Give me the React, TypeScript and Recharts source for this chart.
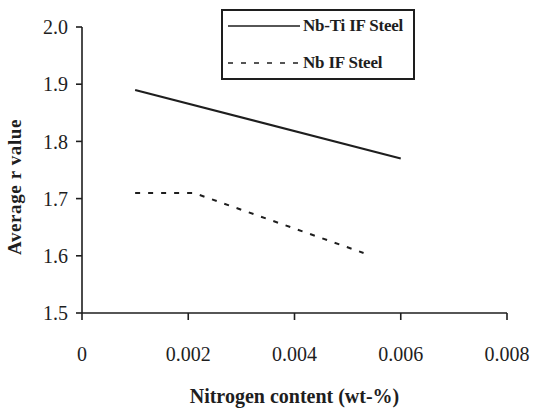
import { LineChart, Line, XAxis, YAxis, Legend, Label } from "recharts";

// nitrogen (wt-%) vs. average r value for the two steel grades
const NB_TI_N = [0.001, 0.006];
const NB_TI_R = [1.89, 1.77];
const NB_N = [0.001, 0.0021, 0.0053];
const NB_R = [1.71, 1.71, 1.605];

const X_TICKS = [0, 0.002, 0.004, 0.006, 0.008];
const Y_TICKS = [1.5, 1.6, 1.7, 1.8, 1.9, 2.0];

const nbTi = NB_TI_N.map((n, i) => ({ n, r: NB_TI_R[i] }));
const nb = NB_N.map((n, i) => ({ n, r: NB_R[i] }));

const INK = "#1e1e1e";
const FONT = '"Liberation Serif", "Times New Roman", serif';

const SERIES = [
  { name: "Nb-Ti IF Steel", data: nbTi, dash: undefined },
  { name: "Nb IF Steel", data: nb, dash: "5 8" },
];

function LegendBox() {
  return (
    <div
      style={{
        boxSizing: "border-box",
        width: 194,
        height: 71,
        border: `2px solid ${INK}`,
        fontFamily: FONT,
        fontWeight: 700,
        fontSize: 17,
        color: INK,
        position: "relative",
      }}
    >
      {SERIES.map((s, i) => (
        <div
          key={s.name}
          style={{
            position: "absolute",
            left: 5,
            top: i === 0 ? 3 : 40,
            height: 24,
            display: "flex",
            alignItems: "center",
            whiteSpace: "nowrap",
          }}
        >
          <svg width={72} height={4} style={{ marginRight: 3 }}>
            <line
              x1={0}
              y1={2}
              x2={72}
              y2={2}
              stroke={INK}
              strokeWidth={1.6}
              strokeDasharray={s.dash}
            />
          </svg>
          <span style={{ letterSpacing: -0.2 }}>{s.name}</span>
        </div>
      ))}
    </div>
  );
}

export default function App() {
  return (
    <div
      style={{
        position: "absolute",
        left: 0,
        top: 0,
        background: "#fff",
        fontFamily: FONT,
      }}
    >
      <LineChart
        width={534}
        height={416}
        margin={{ top: 27, right: 27, bottom: 0, left: 0 }}
        style={{ fontFamily: FONT }}
      >
        <XAxis
          type="number"
          dataKey="n"
          domain={[0, 0.008]}
          ticks={X_TICKS}
          tickFormatter={(v) => (v === 0 ? "0" : v.toFixed(3))}
          height={103}
          tickSize={7}
          tickMargin={27}
          axisLine={{ stroke: INK, strokeWidth: 1.6 }}
          tickLine={{ stroke: INK, strokeWidth: 1.6 }}
          tick={{ fill: INK, fontSize: 20, fontFamily: FONT }}
          allowDuplicatedCategory={false}
        >
          <Label
            content={({ viewBox }: any) => (
              <text
                x={viewBox.x + viewBox.width / 2}
                y={viewBox.y + 85}
                textAnchor="middle"
                dominantBaseline="middle"
                fill={INK}
                fontFamily={FONT}
                fontWeight={700}
                fontSize={20}
              >
                Nitrogen content (wt-%)
              </text>
            )}
          />
        </XAxis>
        <YAxis
          type="number"
          domain={[1.5, 2.0]}
          ticks={Y_TICKS}
          tickFormatter={(v) => v.toFixed(1)}
          width={82}
          tickSize={6}
          tickMargin={8}
          axisLine={{ stroke: INK, strokeWidth: 1.6 }}
          tickLine={{ stroke: INK, strokeWidth: 1.6 }}
          tick={{ fill: INK, fontSize: 20, fontFamily: FONT }}
        >
          <Label
            content={({ viewBox }: any) => {
              const cx = viewBox.x + 17;
              const cy = viewBox.y + viewBox.height / 2 + 17;
              return (
                <text
                  x={cx}
                  y={cy}
                  transform={`rotate(-90 ${cx} ${cy})`}
                  textAnchor="middle"
                  dominantBaseline="middle"
                  fill={INK}
                  fontFamily={FONT}
                  fontWeight={700}
                  fontSize={19}
                  letterSpacing={0.6}
                >
                  Average r value
                </text>
              );
            }}
          />
        </YAxis>
        <Legend
          layout="horizontal"
          verticalAlign="middle"
          align="center"
          content={() => <LegendBox />}
          wrapperStyle={{ top: 9, left: 221, width: 194, height: 71 }}
        />
        {SERIES.map((s) => (
          <Line
            key={s.name}
            name={s.name}
            data={s.data}
            dataKey="r"
            type="linear"
            stroke={INK}
            strokeWidth={2}
            strokeDasharray={s.dash}
            dot={false}
            activeDot={false}
            isAnimationActive={false}
          />
        ))}
      </LineChart>
    </div>
  );
}
